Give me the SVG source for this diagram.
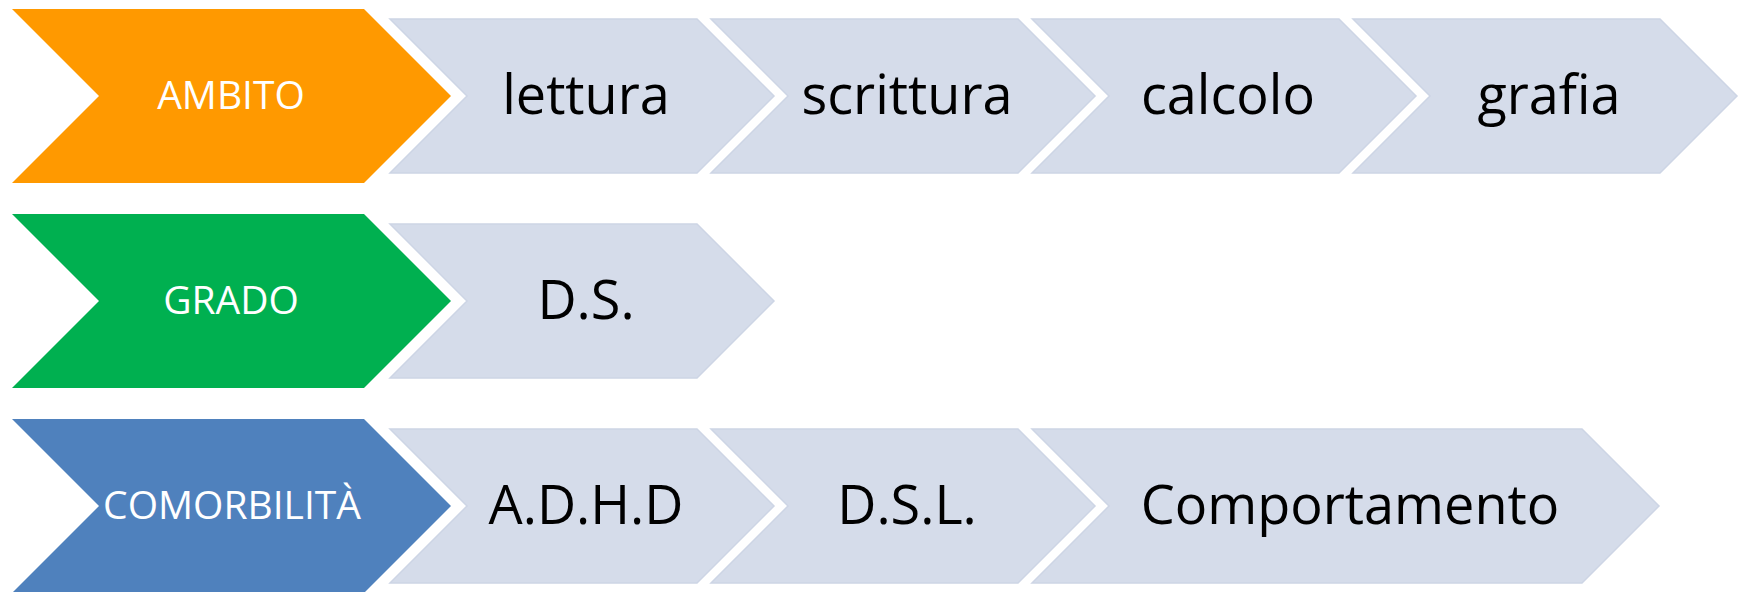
<svg xmlns="http://www.w3.org/2000/svg" width="1744" height="592" viewBox="0 0 1744 592">
<style>
.head{stroke:none}
.item{fill:#D5DCEA;stroke:#CDD5E5;stroke-width:1.5}
.ht{font-family:"Open Sans","Liberation Sans",sans-serif;font-size:39px;fill:#FFFFFF;text-anchor:middle}
.it{font-family:"Open Sans","Liberation Sans",sans-serif;font-size:54px;fill:#000000;text-anchor:middle}
</style>
<rect width="1744" height="592" fill="#FFFFFF"/>
<defs>
<polygon id="hd" points="12,9 364,9 451,96 364,183 12,183 99,96"/>
<polygon id="ch" points="0,19 307,19 384,96 307,173 0,173 77,96"/>
</defs>
<g id="connectors"/>
<g id="ambito">
<use href="#hd" fill="#FF9900"/>
<text class="ht" x="231" y="109">AMBITO</text>
</g>
<g id="lettura">
<use href="#ch" x="390" class="item"/>
<text class="it" x="586" y="114">lettura</text>
</g>
<g id="scrittura">
<use href="#ch" x="711" class="item"/>
<text class="it" x="907" y="114">scrittura</text>
</g>
<g id="calcolo">
<use href="#ch" x="1032" class="item"/>
<text class="it" x="1228" y="114">calcolo</text>
</g>
<g id="grafia">
<use href="#ch" x="1353" class="item"/>
<text class="it" x="1549" y="114">grafia</text>
</g>
<g id="grado" transform="translate(0,205)">
<use href="#hd" fill="#00B050"/>
<text class="ht" x="231" y="109">GRADO</text>
</g>
<g id="ds" transform="translate(0,205)">
<use href="#ch" x="390" class="item"/>
<text class="it" x="586" y="114">D.S.</text>
</g>
<g id="comorbilita" transform="translate(0,410)">
<use href="#hd" fill="#4F81BD"/>
<text class="ht" x="232" y="109">COMORBILITÀ</text>
</g>
<g id="adhd" transform="translate(0,410)">
<use href="#ch" x="390" class="item"/>
<text class="it" x="586" y="114">A.D.H.D</text>
</g>
<g id="dsl" transform="translate(0,410)">
<use href="#ch" x="711" class="item"/>
<text class="it" x="907" y="114">D.S.L.</text>
</g>
<g id="comportamento" transform="translate(0,410)">
<polygon class="item" points="1032,19 1582,19 1659,96 1582,173 1032,173 1109,96"/>
<text class="it" x="1350" y="114">Comportamento</text>
</g>
</svg>
